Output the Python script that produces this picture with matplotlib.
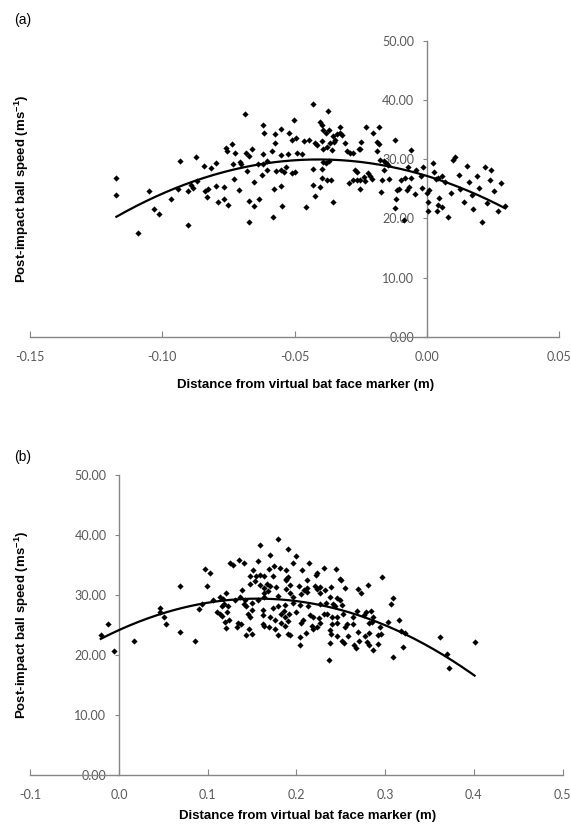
import numpy as np
import matplotlib.pyplot as plt

plt.rcParams['font.family'] = ['Lato', 'DejaVu Sans']
plt.rcParams['mathtext.fontset'] = 'custom'
plt.rcParams['mathtext.bf'] = 'Liberation Sans:bold'
plt.rcParams['mathtext.rm'] = 'Liberation Sans:bold'
plt.rcParams['mathtext.default'] = 'bf'

# panel (a): distance (m) vs post-impact ball speed (m/s)
dist_a = [-0.0687, -0.0618, -0.0615, -0.0737, -0.0761, -0.0756, -0.0727, -0.0684, -0.0672, -0.0662,
          -0.0621, -0.0935, -0.0873, -0.0841, -0.0815, -0.0797, -0.0733, -0.0708, -0.0701, -0.0680,
          -0.0640, -0.0620, -0.0605, -0.0623, -0.1174, -0.1174, -0.1049, -0.0967, -0.1031, -0.1011,
          -0.0941, -0.0905, -0.0885, -0.0892, -0.0869, -0.0837, -0.0826, -0.0832, -0.0797, -0.0767,
          -0.0728, -0.0711, -0.0653, -0.0788, -0.0766, -0.0750, -0.0674, -0.0655, -0.0633, -0.0903,
          -0.1091, -0.0674,
          -0.0432, -0.0374, -0.0504, -0.0552, -0.0575, -0.0575, -0.0522, -0.0509, -0.0494, -0.0466,
          -0.0446, -0.0403, -0.0396, -0.0391, -0.0381, -0.0368, -0.0355, -0.0347, -0.0340, -0.0328,
          -0.0328, -0.0321, -0.0423, -0.0414, -0.0397, -0.0391, -0.0378, -0.0366, -0.0359, -0.0350,
          -0.0308, -0.0300, -0.0290, -0.0280, -0.0257, -0.0250, -0.0229, -0.0202, -0.0181, -0.0189,
          -0.0181, -0.0187, -0.0119, -0.0060, -0.0585, -0.0552, -0.0524, -0.0489, -0.0471,
          -0.0603, -0.0572, -0.0550, -0.0540, -0.0532, -0.0509, -0.0499, -0.0429, -0.0396, -0.0391,
          -0.0381, -0.0371, -0.0396, -0.0378, -0.0363, -0.0429, -0.0423, -0.0403, -0.0577, -0.0552,
          -0.0547, -0.0580, -0.0456, -0.0355, -0.0293, -0.0280, -0.0272, -0.0265, -0.0252, -0.0252,
          -0.0237, -0.0222, -0.0214, -0.0209, -0.0177, -0.0161, -0.0154, -0.0145, -0.0161, -0.0172,
          -0.0169, -0.0141, -0.0121, -0.0116, -0.0111, -0.0104, -0.0096, -0.0081, -0.0076, -0.0068,
          -0.0071, -0.0060, -0.0045, -0.0040, -0.0020, -0.0018, -0.0015, -0.0088, 0.0000, 0.0010,
          0.0023, 0.0028, 0.0035, 0.0005, 0.0038, 0.0045, -0.0265, -0.0232, -0.0252,
          0.0042, 0.0059, 0.0042, 0.0059, 0.0006,
          0.0068, 0.0079, 0.0093, 0.0101, 0.0108, 0.0122, 0.0127, 0.0139, 0.0151, 0.0158,
          0.0171, 0.0176, 0.0189, 0.0197, 0.0208, 0.0219, 0.0226, 0.0238, 0.0244, 0.0253,
          0.0268, 0.0279, 0.0296]
speed_a = [37.6, 35.8, 34.4, 32.5, 31.9, 31.4, 31.1, 31.1, 30.5, 31.8,
           30.8, 29.7, 30.3, 28.8, 28.5, 29.3, 29.2, 29.5, 29.2, 28.0,
           29.2, 29.2, 28.2, 27.3, 26.9, 23.9, 24.6, 23.3, 21.6, 20.8,
           24.9, 24.7, 25.1, 25.6, 26.3, 24.6, 24.9, 23.6, 25.5, 25.3,
           26.6, 24.8, 26.2, 22.8, 23.2, 22.2, 23.0, 22.1, 23.3, 18.8,
           17.6, 19.4,
           39.4, 38.2, 36.6, 35.1, 34.2, 32.7, 34.4, 33.3, 33.5, 33.1,
           33.2, 36.3, 35.8, 35.0, 34.5, 34.9, 33.9, 33.2, 34.2, 35.4,
           34.4, 34.1, 32.7, 32.4, 33.1, 31.7, 32.1, 32.7, 31.5, 32.9,
           32.7, 31.3, 31.1, 31.0, 31.7, 32.9, 35.4, 34.5, 35.4, 32.9,
           32.6, 31.3, 33.3, 31.5, 31.3, 30.7, 30.9, 31.0, 30.9,
           29.7, 28.0, 28.2, 27.9, 28.6, 27.6, 27.9, 28.3, 28.4, 29.6,
           29.3, 29.7, 26.8, 26.5, 26.5, 25.6, 23.8, 25.3, 25.0, 25.5,
           22.1, 20.3, 21.9, 22.8, 25.9, 26.5, 28.2, 27.9, 26.5, 24.9,
           27.0, 27.6, 27.1, 26.6, 29.8, 29.7, 29.4, 29.0, 28.2, 24.5,
           26.5, 26.6, 21.7, 23.2, 24.8, 24.9, 26.4, 26.9, 24.8, 25.3,
           28.6, 26.9, 24.1, 28.2, 27.1, 25.2, 28.7, 19.7, 24.2, 24.8,
           29.4, 27.8, 26.6, 21.3, 21.3, 23.5, 26.5, 26.3, 31.8,
           26.8, 27.2, 22.2, 22.0, 22.8,
           26.1, 20.2, 24.3, 29.8, 30.4, 27.3, 25.0, 22.7, 28.8, 26.2,
           23.9, 21.5, 27.2, 25.1, 19.4, 28.6, 22.6, 26.4, 28.2, 24.7,
           21.2, 26.0, 22.1]

# panel (b)
dist_b = [-0.0205, -0.0123, -0.0059, 0.0167, 0.0460, 0.0468, 0.0513, 0.0535, 0.0685, 0.0693,
          0.0854, 0.0903, 0.0937, 0.0970, 0.1031, 0.0998, 0.1061, 0.1106, 0.1136, 0.1156,
          0.1167, 0.1182, 0.1212, 0.1230, 0.1241, 0.1212, 0.1249, 0.1286, 0.1354, 0.1325,
          0.1136, 0.1174, 0.1197,
          0.1790, 0.1587, 0.1906, 0.1708, 0.1993,
          0.1414, 0.1572, 0.1962, 0.2142, 0.2308, 0.2451, 0.1511, 0.1692, 0.1745, 0.1812, 0.1888, 0.2068,
          0.1482, 0.1542, 0.1587, 0.1640, 0.1737, 0.1888, 0.1906, 0.2121, 0.2219, 0.2233, 0.2489, 0.2504, 0.2966,
          0.1384, 0.1595, 0.1640, 0.1700, 0.1775, 0.1880, 0.1925, 0.2030, 0.2114, 0.2204, 0.2264, 0.2391,
          0.2548, 0.2699, 0.2729, 0.2804,
          0.1369, 0.1632, 0.1790, 0.1925, 0.1962, 0.2053, 0.2121, 0.2264, 0.2377, 0.2452, 0.2489, 0.3083,
          0.1407, 0.1437, 0.1798, 0.1873, 0.1956, 0.2038, 0.2129, 0.2264, 0.2339, 0.2414, 0.2436, 0.2512, 0.3061,
          0.1625, 0.1737, 0.1858, 0.1918, 0.2001, 0.1452, 0.1475, 0.1618, 0.1700, 0.1760, 0.1873, 0.1903,
          0.2151, 0.2188, 0.2249, 0.2309, 0.2346, 0.2399, 0.2459, 0.2527, 0.2639, 0.2684, 0.2760, 0.2782,
          0.2842, 0.2858,
          0.1377, 0.1467, 0.1618, 0.1640, 0.1692, 0.1828, 0.1866, 0.2053, 0.2076, 0.2174, 0.2227, 0.2264,
          0.2399, 0.2452, 0.2549, 0.2572, 0.2639, 0.2820, 0.2850, 0.2940, 0.3030, 0.3151, 0.3180, 0.3225,
          0.1430, 0.1505, 0.1798, 0.1925, 0.2038, 0.2106, 0.2182, 0.2377, 0.2391, 0.2459, 0.2587, 0.2692,
          0.2775, 0.2813, 0.2918, 0.2955,
          0.2038, 0.2377, 0.2512, 0.2542, 0.2647, 0.2670, 0.2707, 0.2790, 0.2820, 0.2865, 0.2918, 0.3196,
          0.3617, 0.2362, 0.3083, 0.3699, 0.3722, 0.4008,
          0.1478, 0.1531, 0.1674, 0.1636, 0.1681, 0.1884, 0.1306, 0.1420, 0.1494, 0.1568, 0.1223, 0.1343,
          0.1501, 0.1832, 0.1757, 0.1900,
          0.2087, 0.2230, 0.2320]
speed_b = [23.3, 25.2, 20.6, 22.3, 27.9, 27.2, 26.4, 25.1, 31.5, 23.8,
           22.4, 27.6, 28.5, 34.4, 33.6, 31.5, 29.1, 27.2, 26.8, 26.5,
           28.2, 28.5, 30.3, 28.2, 25.8, 24.5, 35.4, 35.0, 35.8, 24.7,
           29.6, 29.4, 25.5,
           39.4, 38.3, 37.6, 36.6, 36.5,
           35.3, 35.7, 35.4, 35.4, 34.5, 34.3, 34.2, 34.3, 34.8, 34.5, 34.2, 34.1,
           33.2, 33.1, 33.3, 33.1, 33.1, 32.7, 33.0, 32.5, 33.3, 33.6, 32.7, 32.5, 33.0,
           30.8, 31.6, 31.1, 31.5, 31.3, 31.0, 31.6, 31.5, 31.1, 31.5, 31.4, 31.4,
           31.1, 31.0, 30.4, 31.6,
           29.7, 29.6, 29.8, 30.3, 29.6, 30.1, 30.5, 30.3, 29.7, 29.5, 29.2, 29.5,
           28.5, 28.1, 28.1, 28.4, 28.7, 28.3, 28.1, 28.5, 28.6, 28.5, 28.2, 28.3, 28.5,
           27.5, 27.8, 27.4, 26.9, 27.2, 26.9, 26.4, 26.7, 26.3, 25.9, 26.4, 25.7,
           26.7, 26.3, 26.2, 26.8, 26.9, 26.4, 26.3, 26.8, 26.3, 27.3, 26.7, 27.2,
           27.4, 26.3,
           25.1, 24.4, 25.2, 24.9, 24.7, 25.3, 24.9, 25.3, 25.8, 24.9, 24.7, 25.3,
           25.2, 25.4, 24.7, 25.2, 25.1, 25.3, 25.5, 24.7, 25.5, 25.9, 24.0, 23.6,
           23.3, 23.5, 23.3, 23.3, 23.0, 23.6, 24.4, 24.1, 23.5, 23.1, 23.1, 23.9,
           23.1, 23.6, 23.3, 23.5,
           21.7, 22.0, 22.3, 22.0, 21.7, 21.1, 22.3, 22.1, 21.6, 20.8, 21.8, 21.3,
           23.0, 19.2, 19.6, 20.1, 17.8, 22.2,
           31.9, 32.4, 31.9, 30.4, 30.6, 32.5, 29.2, 29.1, 28.7, 29.2, 27.2, 25.3,
           27.5, 26.9, 24.3, 23.5,
           30.8, 31.0, 30.8]

yticks = [0, 10, 20, 30, 40, 50]
xticks_a = [-0.15, -0.10, -0.05, 0.00, 0.05]
xticks_b = [-0.1, 0.0, 0.1, 0.2, 0.3, 0.4, 0.5]

grey = '#868686'
label_grey = '#595959'

fig = plt.figure(figsize=(5.71, 8.25), dpi=100)
ax_a = fig.add_axes([0.0529, 0.5919, 0.926, 0.3586])
ax_b = fig.add_axes([0.0529, 0.0606, 0.9324, 0.3636])


def draw_panel(ax, x, y, xticks, xfmt):
    x = np.array(x)
    y = np.array(y)
    ax.scatter(x, y, marker='D', s=10, color='black', linewidths=0, zorder=3)
    # 2nd order polynomial trendline
    coef = np.polyfit(x, y, 2)
    xs = np.linspace(x.min(), x.max(), 200)
    ax.plot(xs, np.polyval(coef, xs), color='black', lw=1.6, zorder=4)

    ax.set_xlim(xticks[0], xticks[-1])
    ax.set_ylim(0, 50)
    ax.set_xticks(xticks)
    ax.set_xticklabels([xfmt % t for t in xticks])
    ax.set_yticks(yticks)
    ax.set_yticklabels(['%.2f' % t for t in yticks])

    ax.spines['top'].set_visible(False)
    ax.spines['right'].set_visible(False)
    ax.spines['left'].set_position(('data', 0))
    ax.spines['bottom'].set_position(('data', 0))
    for s in ['left', 'bottom']:
        ax.spines[s].set_color(grey)
        ax.spines[s].set_linewidth(1.0)
    ax.tick_params(axis='x', direction='in', length=4, color=grey, labelcolor=label_grey,
                   labelsize=9, pad=10)
    ax.tick_params(axis='y', direction='out', length=3, color=grey, labelcolor=label_grey,
                   labelsize=9, pad=6)
    ax.patch.set_alpha(0)


draw_panel(ax_a, dist_a, speed_a, xticks_a, '%.2f')
draw_panel(ax_b, dist_b, speed_b, xticks_b, '%.1f')

xlab = 'Distance from virtual bat face marker (m)'
ylab = 'Post-impact ball speed (ms$^{-1}$)'
lab_font = dict(family='Liberation Sans', weight='bold', size=9.5, color='black')

fig.text(306 / 571, 1 - 385 / 825, xlab, ha='center', va='center', **lab_font)
fig.text(308 / 571, 1 - 816 / 825, xlab, ha='center', va='center', **lab_font)
fig.text(22 / 571, 1 - 189 / 825, ylab, ha='center', va='center', rotation=90, **lab_font)
fig.text(22 / 571, 1 - 625 / 825, ylab, ha='center', va='center', rotation=90, **lab_font)

fig.text(14 / 571, 1 - 20 / 825, '(a)', ha='left', va='center',
         family='Liberation Sans', size=10, color='black')
fig.text(14 / 571, 1 - 457 / 825, '(b)', ha='left', va='center',
         family='Liberation Sans', size=10, color='black')

fig.savefig('out.png', dpi=100)
